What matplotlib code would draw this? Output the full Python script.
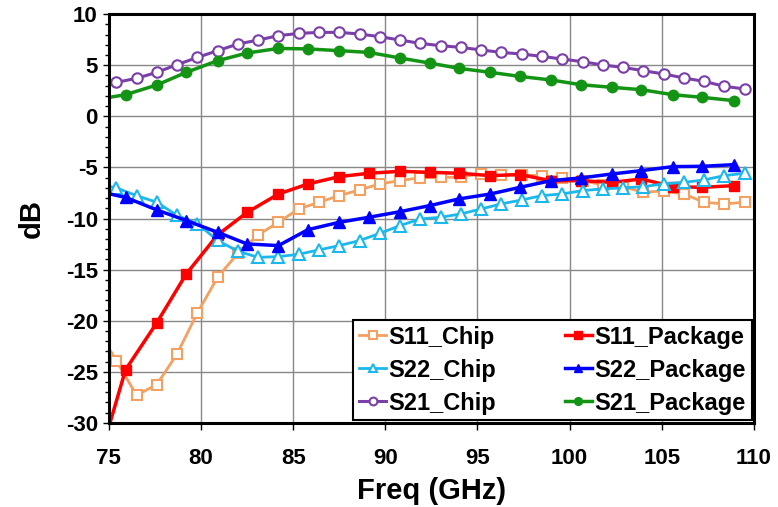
import numpy as np
import matplotlib
matplotlib.use("Agg")
import matplotlib.pyplot as plt
from matplotlib.ticker import MultipleLocator

plt.rcParams['font.family'] = ['Liberation Sans', 'DejaVu Sans']
plt.rcParams['font.weight'] = 'bold'
plt.rcParams['axes.unicode_minus'] = False

# ---------------- measured S-parameters (dB) ----------------
# chip measurement grid (GHz)
freq_chip = [74.3, 75.4, 76.5, 77.6, 78.7, 79.8, 80.9, 82.0, 83.1, 84.2, 85.3,
             86.4, 87.5, 88.6, 89.7, 90.8, 91.9, 93.0, 94.1, 95.2, 96.3, 97.4,
             98.5, 99.6, 100.7, 101.8, 102.9, 104.0, 105.1, 106.2, 107.3, 108.4, 109.5]
s11_chip = [-20.6, -23.9, -27.3, -26.25, -23.25, -19.24, -15.75, -13.4, -11.6, -10.37, -9.06,
            -8.41, -7.76, -7.2, -6.61, -6.29, -6.0, -5.97, -5.95, -5.6, -5.7, -5.75,
            -5.8, -6.0, -6.3, -6.7, -6.9, -7.43, -7.3, -7.6, -8.41, -8.57, -8.41]
s22_chip = [-6.6, -7.0, -7.76, -8.41, -9.7, -10.5, -12.15, -13.2, -13.8, -13.73, -13.5,
            -13.07, -12.65, -12.16, -11.45, -10.69, -10.04, -9.88, -9.55, -9.06, -8.57, -8.18,
            -7.76, -7.59, -7.27, -7.1, -7.0, -6.88, -6.61, -6.46, -6.22, -5.8, -5.57]
s21_chip = [3.0, 3.33, 3.72, 4.31, 5.06, 5.77, 6.43, 7.08, 7.47, 7.9, 8.12,
            8.22, 8.22, 8.06, 7.8, 7.47, 7.14, 6.92, 6.75, 6.5, 6.26, 6.1,
            5.87, 5.61, 5.35, 5.03, 4.79, 4.47, 4.15, 3.76, 3.42, 2.94, 2.68]

# packaged measurement grid (GHz)
freq_pkg = [74.3, 75.9, 77.6, 79.2, 80.9, 82.5, 84.2, 85.8, 87.5, 89.1, 90.8,
            92.4, 94.0, 95.7, 97.3, 99.0, 100.6, 102.3, 103.9, 105.6, 107.2, 108.9]
s11_pkg = [-34.7, -24.81, -20.2, -15.42, -11.6, -9.4, -7.6, -6.62, -5.9, -5.57, -5.38,
           -5.48, -5.57, -5.8, -5.7, -6.3, -6.3, -6.46, -6.13, -6.88, -6.95, -6.78]
s22_pkg = [-7.3, -7.93, -9.16, -10.2, -11.35, -12.49, -12.65, -11.09, -10.37, -9.88, -9.33,
           -8.74, -8.08, -7.6, -6.95, -6.29, -6.03, -5.64, -5.31, -4.92, -4.89, -4.73]
s21_pkg = [1.65, 2.12, 3.07, 4.31, 5.45, 6.2, 6.65, 6.6, 6.43, 6.26, 5.71,
           5.22, 4.7, 4.31, 3.91, 3.56, 3.1, 2.84, 2.61, 2.12, 1.86, 1.54]

#------------------------------------------------------------------------------
fig = plt.figure(figsize=(7.78, 5.07), dpi=100)
ax = fig.add_axes([0.140, 0.166, 0.829, 0.806])

ms = 7.5
h = {}
h['S11_Chip'], = ax.plot(freq_chip, s11_chip, color='#F4A060', lw=2, marker='s', ms=ms,
                         mfc='white', mec='#F4A060', mew=1.5, label='S11_Chip')
h['S11_Package'], = ax.plot(freq_pkg, s11_pkg, color='#FF0000', lw=2.5, marker='s', ms=ms,
                            mfc='#FF0000', mec='#FF0000', label='S11_Package')
h['S22_Chip'], = ax.plot(freq_chip, s22_chip, color='#1CB8EC', lw=2, marker='^', ms=ms + 0.5,
                         mfc='white', mec='#1CB8EC', mew=1.5, label='S22_Chip')
h['S22_Package'], = ax.plot(freq_pkg, s22_pkg, color='#0000FF', lw=2.5, marker='^', ms=ms + 0.5,
                            mfc='#0000FF', mec='#0000FF', label='S22_Package')
h['S21_Chip'], = ax.plot(freq_chip, s21_chip, color='#7A3FA8', lw=2.2, marker='o', ms=ms,
                         mfc='white', mec='#7A3FA8', mew=1.5, label='S21_Chip')
h['S21_Package'], = ax.plot(freq_pkg, s21_pkg, color='#149414', lw=2.5, marker='o', ms=ms,
                            mfc='#149414', mec='#149414', label='S21_Package')

ax.set_xlim(75, 110)
ax.set_ylim(-30, 10)
ax.xaxis.set_major_locator(MultipleLocator(5))
ax.yaxis.set_major_locator(MultipleLocator(5))
ax.yaxis.set_minor_locator(MultipleLocator(1))
ax.grid(True, which='major', color='#888888', lw=1)
ax.set_axisbelow(True)
for s in ax.spines.values():
    s.set_linewidth(2.2)
ax.tick_params(axis='x', which='major', direction='out', length=5, width=1,
               labelsize=16, pad=13)
ax.tick_params(axis='y', which='major', direction='out', length=4, width=1,
               labelsize=16, pad=4)
ax.tick_params(axis='y', which='minor', direction='out', length=3, width=1)

ax.set_xlabel('Freq (GHz)', fontsize=21, fontweight='bold', labelpad=6)
ax.set_ylabel('dB', fontsize=21, fontweight='bold', labelpad=14)

order = ['S11_Chip', 'S22_Chip', 'S21_Chip', 'S11_Package', 'S22_Package', 'S21_Package']
leg = ax.legend([h[k] for k in order], order, ncol=2, loc='lower right',
                bbox_to_anchor=(1.0, 0.0), borderaxespad=0.1, fontsize=17,
                handlelength=1.15, handletextpad=0.1, columnspacing=2.9,
                labelspacing=0.42, borderpad=0.25, fancybox=False, framealpha=1,
                edgecolor='black', markerscale=0.75)
leg.get_frame().set_linewidth(1.5)

fig.savefig('out.png', dpi=100)
